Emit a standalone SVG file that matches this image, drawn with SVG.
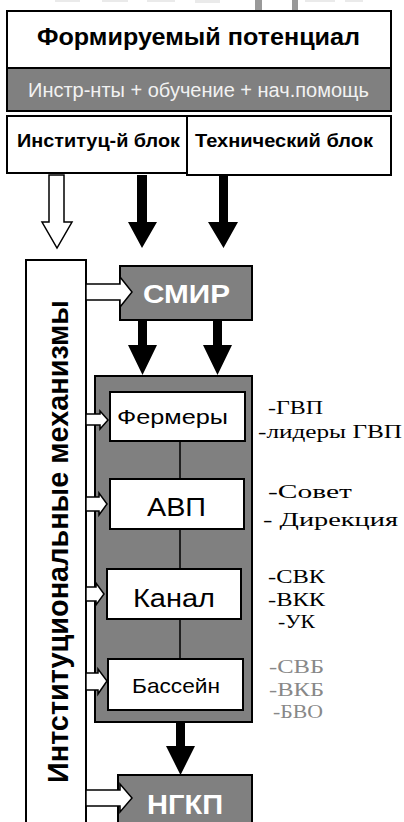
<svg xmlns="http://www.w3.org/2000/svg" width="404" height="822" viewBox="0 0 404 822">
<style>
.box{stroke:#000;stroke-width:2}
.w{fill:#fff}
.g{fill:#808080}
.sans{font-family:"Liberation Sans",Arial,sans-serif}
.serif{font-family:"Liberation Serif","Times New Roman",serif;font-size:19.5px}
.b{font-weight:bold}
.hollow{fill:#fff;stroke:#000;stroke-width:1.5;stroke-linejoin:miter}
.solid{fill:#000}
</style>
<rect width="404" height="822" fill="#fff"/>
<g id="fragments">
<rect x="255" y="0" width="7" height="10" fill="#999"/>
<rect x="292" y="0" width="6" height="10" fill="#999"/>
<rect x="55" y="0" width="25" height="2" fill="#eaeaea"/>
<rect x="102" y="0" width="26" height="2" fill="#eaeaea"/>
<rect x="147" y="0" width="28" height="2" fill="#eaeaea"/>
<rect x="195" y="0" width="25" height="3" fill="#eaeaea"/>
<rect x="305" y="0" width="30" height="2" fill="#eaeaea"/>
<rect x="345" y="0" width="18" height="2" fill="#eaeaea"/>
</g>
<g id="potential">
<rect class="box w" x="7" y="11" width="384" height="57"/>
<text class="sans b" x="37" y="45" font-size="24.5" textLength="323" lengthAdjust="spacingAndGlyphs">Формируемый потенциал</text>
</g>
<g id="tools">
<rect class="box g" x="7" y="68" width="384" height="43"/>
<text class="sans" x="28" y="97" font-size="20.5" fill="#f2f2f2" textLength="341" lengthAdjust="spacingAndGlyphs">Инстр-нты + обучение + нач.помощь</text>
</g>
<g id="inst-block">
<rect class="box w" x="7" y="116" width="180" height="57"/>
<text class="sans b" x="17" y="147" font-size="19" textLength="163" lengthAdjust="spacingAndGlyphs">Институц-й блок</text>
</g>
<g id="tech-block">
<rect class="box w" x="187" y="116" width="204" height="59"/>
<text class="sans b" x="195" y="147" font-size="19" textLength="178" lengthAdjust="spacingAndGlyphs">Технический блок</text>
</g>
<g id="mechanisms">
<rect class="box w" x="26" y="260" width="60" height="580"/>
<text class="sans b" transform="translate(68,783) rotate(-90)" font-size="29" textLength="483" lengthAdjust="spacingAndGlyphs">Интституциональные механизмы</text>
</g>
<g id="smir">
<rect class="box g" x="120" y="266" width="132" height="54"/>
<text class="sans b" x="143" y="303" font-size="26" fill="#fff" textLength="87" lengthAdjust="spacingAndGlyphs">СМИР</text>
</g>
<g id="container">
<rect class="box g" x="95" y="376" width="157" height="346"/>
<line x1="180" y1="441" x2="180" y2="659" stroke="#000" stroke-width="1.5"/>
</g>
<g id="farmers">
<rect class="box w" x="110" y="392" width="135" height="49"/>
<text class="sans" x="117" y="424" font-size="21" textLength="111" lengthAdjust="spacingAndGlyphs">Фермеры</text>
</g>
<g id="avp">
<rect class="box w" x="110" y="479" width="134" height="50"/>
<text class="sans" x="147" y="516" font-size="26" textLength="59" lengthAdjust="spacingAndGlyphs">АВП</text>
</g>
<g id="kanal">
<rect class="box w" x="107" y="569" width="134" height="50"/>
<text class="sans" x="133" y="607" font-size="26" textLength="82" lengthAdjust="spacingAndGlyphs">Канал</text>
</g>
<g id="bassein">
<rect class="box w" x="108" y="659" width="135" height="51"/>
<text class="sans" x="132" y="693" font-size="21" textLength="88" lengthAdjust="spacingAndGlyphs">Бассейн</text>
</g>
<g id="ngkp">
<rect class="box g" x="118" y="775" width="134" height="60"/>
<text class="sans b" x="147" y="814" font-size="28" fill="#fff" textLength="76" lengthAdjust="spacingAndGlyphs">НГКП</text>
</g>
<g id="labels">
<text class="serif" x="268" y="414" textLength="55" lengthAdjust="spacingAndGlyphs">-ГВП</text>
<text class="serif" x="258" y="438" textLength="144" lengthAdjust="spacingAndGlyphs">-лидеры ГВП</text>
<text class="serif" x="268" y="498" textLength="84" lengthAdjust="spacingAndGlyphs">-Совет</text>
<text class="serif" x="263" y="526" textLength="135" lengthAdjust="spacingAndGlyphs">- Дирекция</text>
<text class="serif" x="268" y="583" textLength="57" lengthAdjust="spacingAndGlyphs">-СВК</text>
<text class="serif" x="268" y="606" textLength="57" lengthAdjust="spacingAndGlyphs">-ВКК</text>
<text class="serif" x="278" y="628" textLength="37" lengthAdjust="spacingAndGlyphs">-УК</text>
<text class="serif" x="269" y="673" fill="#888" textLength="55" lengthAdjust="spacingAndGlyphs">-СВБ</text>
<text class="serif" x="269" y="696" fill="#888" textLength="55" lengthAdjust="spacingAndGlyphs">-ВКБ</text>
<text class="serif" x="273" y="718" fill="#888" textLength="50" lengthAdjust="spacingAndGlyphs">-БВО</text>
</g>
<g id="connectors">
<polygon class="hollow" points="49,175 64,175 64,222 72,222 57,248 42,222 49,222"/>
<polygon class="solid" points="137,175 147,175 147,222 157,222 142,248 128,222 137,222"/>
<polygon class="solid" points="219,175 228,175 228,222 238,222 223.5,248 208,222 219,222"/>
<polygon class="hollow" points="86,284 120,284 120,277 132,292 120,307 120,300 86,300"/>
<polygon class="solid" points="138,320 147,320 147,345 157,345 142.5,375 128,345 138,345"/>
<polygon class="solid" points="213,320 222,320 222,345 232,345 217.5,375 203,345 213,345"/>
<polygon class="hollow" points="86,414 100,414 100,411 108,420 100,429 100,425 86,425"/>
<polygon class="hollow" points="86,497 99,497 99,493 107,504 99,515 99,511 86,511"/>
<polygon class="hollow" points="86,587 96,587 96,583 104,594 96,605 96,601 86,601"/>
<polygon class="hollow" points="86,673 98,673 98,669 107,681 98,694 98,690 86,690"/>
<polygon class="solid" points="176,722 185,722 185,746 195,746 180.5,775 166,746 176,746"/>
<polygon class="hollow" points="86,790 120,790 120,784 132,798 120,812 120,806 86,806"/>
</g>
</svg>
